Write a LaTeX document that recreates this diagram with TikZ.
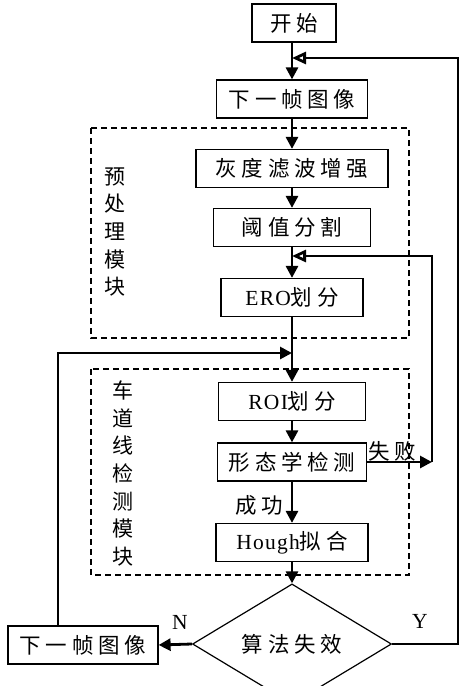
\documentclass[tikz,border=0pt]{standalone}
\usepackage{fontspec}
\setmainfont[LetterSpace=6]{Liberation Serif}
\newfontfamily\cjk[LetterSpace=22]{Noto Sans CJK SC}
\usetikzlibrary{shapes.geometric,arrows.meta}
\begin{document}
\begin{tikzpicture}[x=1pt,y=-1pt,
	box/.style={draw,line width=1.2pt,minimum height=38pt,inner sep=2pt,font=\fontsize{21.5}{24}\selectfont},
	decide/.style={draw,diamond,line width=1.2pt,inner sep=0pt,minimum width=199pt,minimum height=84pt,font=\fontsize{21.5}{24}\selectfont},
	flow/.style={line width=2.8pt,-{Triangle[length=12pt,width=12pt]}},
	merge/.style={line width=2.8pt,-{Triangle[open,length=14pt,width=12pt]}},
	zone/.style={line width=1.8pt,dash pattern=on 6pt off 4pt},
	vlabel/.style={align=center,inner sep=0pt,font=\cjk\fontsize{21}{27.6}\selectfont},
	lbl/.style={inner sep=0pt,font=\fontsize{21.5}{24}\selectfont}]
\useasboundingbox (0,0) rectangle (461,686);
\draw[zone] (91,128) rectangle (409,338);
\draw[zone] (91,369) rectangle (409,575);
\path
	(294,23) node[box,minimum width=84pt] (start) {\cjk 开始}
	(292,99) node[box,minimum width=151pt] (next1) {\cjk 下一帧图像}
	(292,168.5) node[box,minimum width=192pt] (gray) {\cjk 灰度滤波增强}
	(292,227.5) node[box,minimum width=157pt] (thresh) {\cjk 阈值分割}
	(292,297.5) node[box,minimum width=142pt] (ero) {ERO{\cjk 划分}}
	(292,401.5) node[box,minimum width=147pt] (roi) {ROI{\cjk 划分}}
	(292,462) node[box,minimum width=149pt] (morph) {\cjk 形态学检测}
	(292,542.5) node[box,minimum width=152pt] (hough) {Hough{\cjk 拟合}}
	(292,644) node[decide] (fail) {\cjk 算法失效}
	(83,645) node[box,minimum width=150pt] (next2) {\cjk 下一帧图像};
\path
	(115,232) node[vlabel] (pre) {预\\处\\理\\模\\块}
	(123,473.5) node[vlabel] (lane) {车\\道\\线\\检\\测\\模\\块}
	(392,451) node[lbl] (lfail) {\cjk 失败}
	(259,505) node[lbl] (lok) {\cjk 成功}
	(180,622) node[lbl] (lno) {N}
	(420,621) node[lbl] (lyes) {Y};
\coordinate (join1) at (292,58);
\coordinate (join2) at (292,256);
\coordinate (join3) at (292,353);
\coordinate (rcol) at (458,58);
\coordinate (fcol) at (432,462);
\coordinate (lcol) at (58,353);
\draw[flow] (start.south -| join1) -- (next1);
\draw[flow] (next1) -- (gray);
\draw[flow] (gray) -- (thresh);
\draw[flow] (thresh) -- (ero);
\draw[flow] (ero) -- (roi);
\draw[flow] (roi) -- (morph);
\draw[flow] (morph) -- (hough);
\draw[flow] (hough) -- (fail);
\draw[flow] (fail.west) -- (next2.east);
\draw[flow] (morph.east) -- (fcol);
\draw[merge] (fcol) |- (join2);
\draw[merge] (fail.east) -| (rcol) -- (join1);
\draw[flow] (next2.north -| lcol) -- (lcol) -- (join3);
\end{tikzpicture}
\end{document}
